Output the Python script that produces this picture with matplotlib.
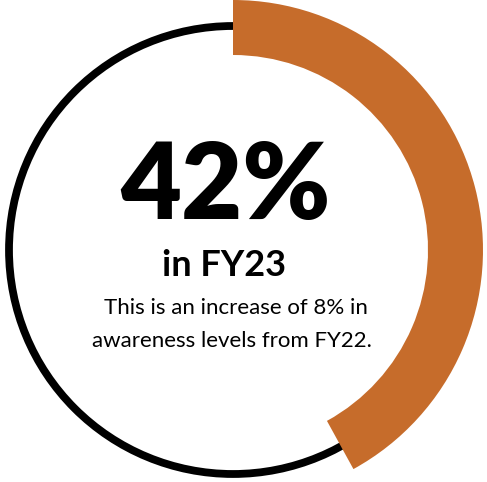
import matplotlib
matplotlib.use("Agg")
import matplotlib.pyplot as plt
from matplotlib.patches import Circle

# Awareness level in FY23 (percent)
share = [42, 58]
big_label = "42%"
sub_label = "in FY23"
note_lines = ["This is an increase of 8% in", "awareness levels from FY22."]

orange = "#C66C2B"

fig = plt.figure(figsize=(4.87, 4.82), dpi=100)
ax = fig.add_axes([0, 0, 1, 1])

# thin black ring (underneath)
ax.add_patch(Circle((0, 0), 0.896, fill=False, edgecolor="black", linewidth=5.6, zorder=0))

# orange progress arc, clockwise from the top
ax.pie(share, radius=1.0, startangle=90, counterclock=False,
       colors=[orange, "none"], wedgeprops=dict(width=0.22, linewidth=0, zorder=2))

ax.set_xlim(-233 / 250, (487 - 233) / 250)
ax.set_ylim(-232 / 250, 1.0)
ax.set_aspect("equal")
ax.axis("off")

ax.text(-0.03, 0.25, big_label, ha="center", va="center", fontsize=76,
        fontweight="heavy", family=["Lato", "DejaVu Sans"])
ax.text(-0.035, -0.062, sub_label, ha="center", va="center", fontsize=26,
        fontweight="bold", family=["Lato", "DejaVu Sans"])
ax.text(0.01, -0.23, note_lines[0], ha="center", va="center", fontsize=16,
        family=["Lato", "DejaVu Sans"])
ax.text(-0.005, -0.365, note_lines[1], ha="center", va="center", fontsize=16,
        family=["Lato", "DejaVu Sans"])

fig.savefig("out.png", dpi=100)
